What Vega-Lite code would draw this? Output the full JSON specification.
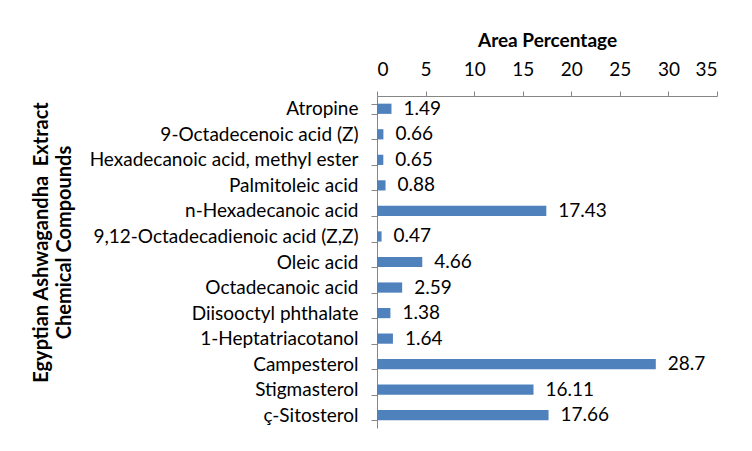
{
  "$schema": "https://vega.github.io/schema/vega-lite/v6.json",
  "width": 340,
  "height": 332,
  "autosize": {"type": "none"},
  "padding": {"left": 377, "top": 96, "right": 35, "bottom": 23},
  "background": "white",
  "config": {"view": {"stroke": null}, "font": "Lato"},
  "data": {
    "values": [
      {"compound": "Atropine", "area": 1.49},
      {"compound": "9-Octadecenoic acid (Z)", "area": 0.66},
      {"compound": "Hexadecanoic acid, methyl ester", "area": 0.65},
      {"compound": "Palmitoleic acid", "area": 0.88},
      {"compound": "n-Hexadecanoic acid", "area": 17.43},
      {"compound": "9,12-Octadecadienoic acid (Z,Z)", "area": 0.47},
      {"compound": "Oleic acid", "area": 4.66},
      {"compound": "Octadecanoic acid", "area": 2.59},
      {"compound": "Diisooctyl phthalate", "area": 1.38},
      {"compound": "1-Heptatriacotanol", "area": 1.64},
      {"compound": "Campesterol", "area": 28.7},
      {"compound": "Stigmasterol", "area": 16.11},
      {"compound": "ç-Sitosterol", "area": 17.66}
    ]
  },
  "encoding": {
    "y": {
      "field": "compound",
      "type": "nominal",
      "sort": null,
      "scale": {"paddingInner": 0.6, "paddingOuter": 0.3},
      "axis": {
        "title": ["Egyptian Ashwagandha\u00a0 Extract", "Chemical Compounds"],
        "titleFont": "Lato",
        "titleFontSize": 20,
        "titleFontWeight": "bold",
        "titleColor": "black",
        "titleLineHeight": 23,
        "titleAngle": -90,
        "titleAlign": "center",
        "titleBaseline": "middle",
        "titleX": -336,
        "titleY": 146,
        "labelFont": "Lato",
        "labelFontSize": 19,
        "labelColor": "black",
        "labelLimit": 0,
        "labelPadding": 13,
        "tickBand": "extent",
        "tickSize": 6,
        "tickColor": "#868686",
        "domainColor": "#868686"
      }
    },
    "x": {
      "field": "area",
      "type": "quantitative",
      "scale": {"domain": [0, 35], "nice": false},
      "axis": {
        "orient": "top",
        "values": [0, 5, 10, 15, 20, 25, 30, 35],
        "grid": false,
        "title": "Area Percentage",
        "titleFont": "Lato",
        "titleFontSize": 19,
        "titleFontWeight": "bold",
        "titleColor": "black",
        "titlePadding": 10,
        "labelFont": "Lato",
        "labelFontSize": 19,
        "labelColor": "black",
        "labelPadding": 12,
        "tickSize": 5,
        "tickColor": "#868686",
        "domainColor": "#868686"
      }
    }
  },
  "layer": [
    {"mark": {"type": "bar", "color": "#4F81BD"}},
    {
      "mark": {"type": "text", "align": "left", "baseline": "middle", "dx": 12, "fontSize": 19, "color": "black"},
      "encoding": {"text": {"field": "area", "type": "quantitative"}}
    }
  ]
}
